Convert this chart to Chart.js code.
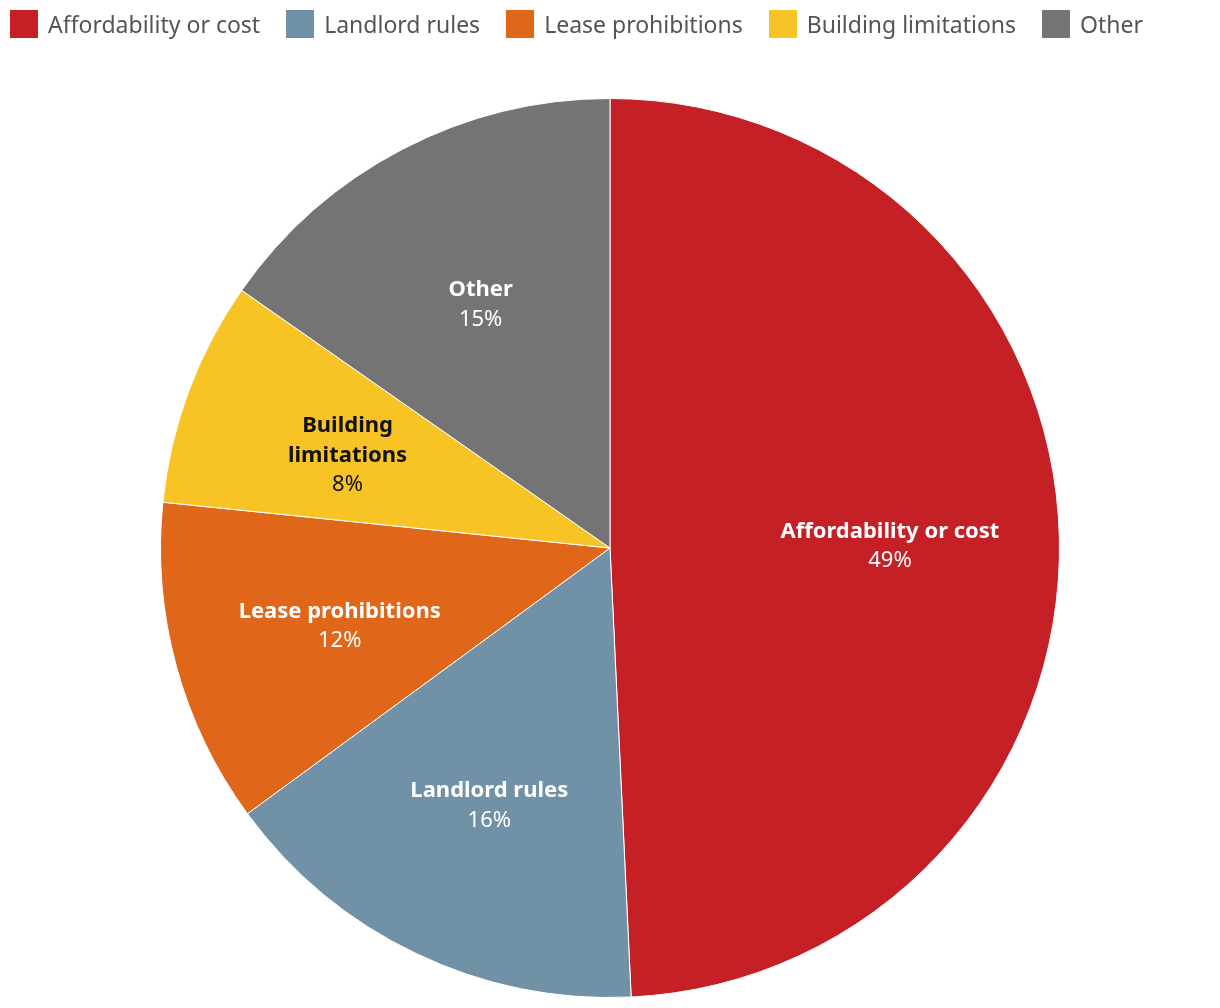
<!DOCTYPE html>
<html lang="en">
<head>
<meta charset="utf-8">
<title>Barriers</title>
<script src="https://cdn.jsdelivr.net/npm/chart.js@4.4.0/dist/chart.umd.min.js"></script>
<style>
  html, body { margin: 0; padding: 0; background: #fff; }
  #wrap { width: 1220px; height: 1008px; position: relative; }
  #legend { position: absolute; left: 10px; top: 10px; display: flex; margin: 0; padding: 0; list-style: none;
            font-family: 'Noto Sans', 'Open Sans', sans-serif; font-size: 23px; color: #555; }
  #legend li { display: flex; align-items: center; height: 28px; margin-right: 26px; white-space: nowrap; }
  #legend span.box { width: 28px; height: 28px; margin-right: 10px; display: inline-block; }
</style>
</head>
<body>
<div id="wrap">
  <canvas id="myChart"></canvas>
  <ul id="legend"></ul>
</div>
<script>
const categories = ['Affordability or cost', 'Landlord rules', 'Lease prohibitions', 'Building limitations', 'Other'];
// shares, the labels show them rounded
const shares = [49.3, 15.7, 11.7, 8.1, 15.3];
// label lines drawn inside each slice
const sliceNames = [['Affordability or cost'], ['Landlord rules'], ['Lease prohibitions'], ['Building', 'limitations'], ['Other']];
const colors = ['#C42026', '#7191A6', '#E0661A', '#F7C325', '#747474'];
const labelColors = ['#fff', '#fff', '#fff', '#111', '#fff'];

const FONT = "'Noto Sans', 'Open Sans', sans-serif";

// draws name + percentage inside slices, a bit further out than the default tooltip spot
const sliceLabels = {
  id: 'sliceLabels',
  afterDatasetsDraw(chart) {
    const ctx = chart.ctx;
    const meta = chart.getDatasetMeta(0);
    ctx.save();
    ctx.textAlign = 'center';
    ctx.textBaseline = 'middle';
    meta.data.forEach((arc, i) => {
      const p = arc.getProps(['x', 'y', 'startAngle', 'endAngle', 'outerRadius']);
      const mid = (p.startAngle + p.endAngle) / 2;
      const r = p.outerRadius * 0.623;
      const cx = p.x + Math.cos(mid) * r;
      const cy = p.y + Math.sin(mid) * r + 5;
      const lines = sliceNames[i].map(t => ({ t, bold: true }));
      lines.push({ t: Math.round(shares[i]) + '%', bold: false });
      const lh = 29.5;
      let y = cy - (lines.length - 1) * lh / 2;
      ctx.fillStyle = labelColors[i];
      lines.forEach(l => {
        ctx.font = (l.bold ? 'bold ' : '') + '22px ' + FONT;
        ctx.fillText(l.t, cx, y);
        y += lh;
      });
    });
    ctx.restore();
  }
};

// html legend built from the chart's own label items
const htmlLegend = {
  id: 'htmlLegend',
  afterUpdate(chart) {
    const ul = document.getElementById('legend');
    ul.innerHTML = '';
    chart.options.plugins.legend.labels.generateLabels(chart).forEach(item => {
      const li = document.createElement('li');
      const box = document.createElement('span');
      box.className = 'box';
      box.style.background = item.fillStyle;
      li.appendChild(box);
      li.appendChild(document.createTextNode(item.text));
      ul.appendChild(li);
    });
  }
};

const ctx = document.getElementById('myChart').getContext('2d');
const myChart = new Chart(ctx, {
  type: 'pie',
  data: {
    labels: categories,
    datasets: [{
      data: shares,
      backgroundColor: colors,
      borderColor: '#ffffff',
      borderWidth: 1
    }]
  },
  options: {
    responsive: true,
    maintainAspectRatio: false,
    animation: false,
    layout: { padding: { top: 98, bottom: 10 } },
    plugins: {
      legend: { display: false },
      tooltip: { enabled: false }
    }
  },
  plugins: [sliceLabels, htmlLegend]
});
</script>
</body>
</html>
